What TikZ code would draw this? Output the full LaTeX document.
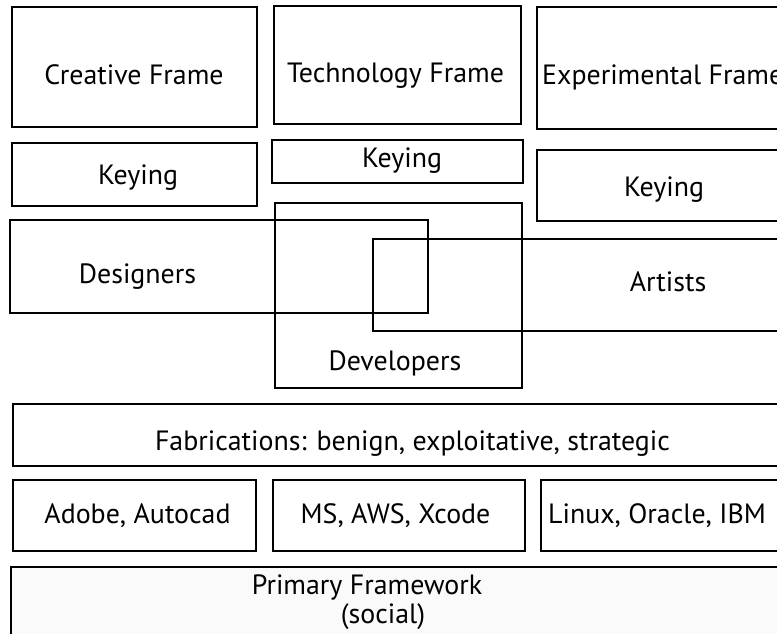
\documentclass[tikz,border=0pt]{standalone}
\usepackage{fontspec}
\setmainfont{PT Sans}
\begin{document}
\begin{tikzpicture}[x=1bp,y=-1bp,
  box/.style={draw=black,line width=2bp},
  lbl/.style={inner sep=0pt,anchor=base,font=\fontsize{28}{32}\selectfont},
  lblw/.style={lbl,anchor=base west}]
\useasboundingbox (0,0) rectangle (777,634);
\clip (0,0) rectangle (777,634);
% frames
\draw[box] (12,7) rectangle (257,127);
\draw[box] (274,6) rectangle (521,124);
\draw[box] (537,7) rectangle (800,129);
% keying strips
\draw[box] (12,143) rectangle (257,206);
\draw[box] (272,140) rectangle (523,183);
\draw[box] (537,150) rectangle (800,221);
% overlapping groups
\draw[box] (10,220) rectangle (428,313);
\draw[box] (275,203) rectangle (522,388);
\draw[box] (373,239) rectangle (800,331);
% lower layers
\draw[box] (13,404) rectangle (800,466);
\draw[box] (13,480) rectangle (256,551);
\draw[box] (273,480) rectangle (525,551);
\draw[box] (541,480) rectangle (800,551);
\draw[box,fill=gray!4] (11,567) rectangle (800,660);
% labels
\node[lbl] (creative) at (134,85) {Creative Frame};
\node[lbl] (technology) at (395.5,83) {Technology Frame};
\node[lblw] (experimental) at (542,85) {Experimental Frame};
\node[lbl] (key1) at (138,185) {Keying};
\node[lbl] (key2) at (402,168) {Keying};
\node[lbl] (key3) at (664,197) {Keying};
\node[lbl] (designers) at (137.5,283) {Designers};
\node[lbl] (developers) at (395,370) {Developers};
\node[lbl] (artists) at (668,291) {Artists};
\node[lbl] (fabrications) at (412.5,450) {Fabrications: benign, exploitative, strategic};
\node[lbl] (adobe) at (137.5,523) {Adobe, Autocad};
\node[lbl] (ms) at (395.5,523) {MS, AWS, Xcode};
\node[lbl] (linux) at (657,523) {Linux, Oracle, IBM};
\node[lbl] (primary) at (367,594) {Primary Framework};
\node[lbl] (social) at (383,623) {(social)};
\end{tikzpicture}
\end{document}
